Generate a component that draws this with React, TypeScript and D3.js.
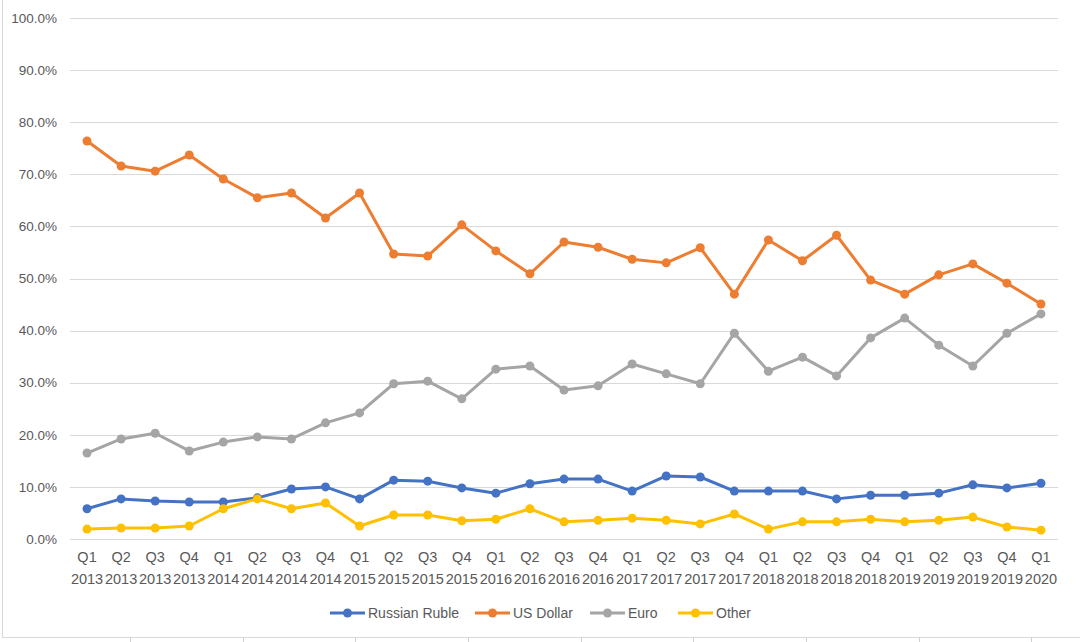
import React, { useEffect, useRef } from "react";
import * as d3 from "d3";

const quarters = [
  "Q1 2013", "Q2 2013", "Q3 2013", "Q4 2013",
  "Q1 2014", "Q2 2014", "Q3 2014", "Q4 2014",
  "Q1 2015", "Q2 2015", "Q3 2015", "Q4 2015",
  "Q1 2016", "Q2 2016", "Q3 2016", "Q4 2016",
  "Q1 2017", "Q2 2017", "Q3 2017", "Q4 2017",
  "Q1 2018", "Q2 2018", "Q3 2018", "Q4 2018",
  "Q1 2019", "Q2 2019", "Q3 2019", "Q4 2019",
  "Q1 2020",
];

const rubleValues = [
  5.8, 7.7, 7.3, 7.1, 7.1, 7.9, 9.6, 10.0, 7.7, 11.3, 11.1, 9.8, 8.8, 10.6, 11.5,
  11.5, 9.2, 12.1, 11.9, 9.2, 9.2, 9.2, 7.7, 8.4, 8.4, 8.8, 10.4, 9.8, 10.7,
];

const dollarValues = [
  76.4, 71.6, 70.6, 73.7, 69.1, 65.5, 66.4, 61.6, 66.4, 54.7, 54.3, 60.3, 55.3, 50.9,
  57.0, 56.0, 53.7, 53.0, 55.9, 47.0, 57.4, 53.4, 58.3, 49.7, 47.0, 50.7, 52.8, 49.1,
  45.1,
];

const euroValues = [
  16.5, 19.2, 20.3, 16.9, 18.6, 19.6, 19.2, 22.3, 24.2, 29.8, 30.3, 26.9, 32.6, 33.2,
  28.6, 29.4, 33.6, 31.7, 29.8, 39.5, 32.2, 34.9, 31.3, 38.6, 42.4, 37.2, 33.2, 39.5,
  43.2,
];

const otherValues = [
  1.9, 2.1, 2.1, 2.5, 5.8, 7.7, 5.8, 6.9, 2.5, 4.6, 4.6, 3.5, 3.8, 5.8, 3.3, 3.6, 4.0,
  3.6, 2.9, 4.8, 1.9, 3.3, 3.3, 3.8, 3.3, 3.6, 4.2, 2.3, 1.7,
];

const yTicks = [0, 10, 20, 30, 40, 50, 60, 70, 80, 90, 100];

const seriesNames = ["Russian Ruble", "US Dollar", "Euro", "Other"];
const seriesColors = ["#4472C4", "#ED7D31", "#A5A5A5", "#FFC000"];

const W = 1080;
const H = 642;
const FONT = "'Liberation Sans', Arial, sans-serif";

const App: React.FC = () => {
  const svgRef = useRef<SVGSVGElement>(null);

  useEffect(() => {
    const svg = d3.select(svgRef.current!);
    svg.selectAll("*").remove();

    const series = [rubleValues, dollarValues, euroValues, otherValues].map((values, i) => ({
      name: seriesNames[i],
      color: seriesColors[i],
      values,
    }));

    const x = d3.scaleBand<string>().domain(quarters).range([70, 1058]);
    const y = d3.scaleLinear().domain([0, 100]).range([539, 18]);
    const cx = (q: string) => x(q)! + x.bandwidth() / 2;

    // frame
    svg.append("line").attr("x1", 2.5).attr("x2", 2.5).attr("y1", 0).attr("y2", 637.5)
      .attr("stroke", "#d9d9d9");
    svg.append("line").attr("x1", 2).attr("x2", W).attr("y1", 637.5).attr("y2", 637.5)
      .attr("stroke", "#d9d9d9");
    [130, 243, 355, 468, 581, 693, 806, 919, 1031].forEach((t) => {
      svg.append("line").attr("x1", t + 0.5).attr("x2", t + 0.5).attr("y1", 637).attr("y2", H)
        .attr("stroke", "#d0d0d0");
    });

    // gridlines
    svg.append("g")
      .selectAll("line")
      .data(yTicks)
      .join("line")
      .attr("x1", 70)
      .attr("x2", 1058)
      .attr("y1", (d) => Math.round(y(d)) + 0.5)
      .attr("y2", (d) => Math.round(y(d)) + 0.5)
      .attr("stroke", "#d9d9d9")
      .attr("stroke-width", 1.2);

    // y labels
    svg.append("g")
      .selectAll("text")
      .data(yTicks)
      .join("text")
      .attr("x", 57)
      .attr("y", (d) => y(d))
      .attr("dy", "0.35em")
      .attr("text-anchor", "end")
      .attr("font-family", FONT)
      .attr("font-size", 13.5)
      .attr("fill", "#595959")
      .text((d) => d.toFixed(1) + "%");

    // x labels
    const xl = svg.append("g")
      .selectAll("text")
      .data(quarters)
      .join("text")
      .attr("text-anchor", "middle")
      .attr("font-family", FONT)
      .attr("font-size", 14.5)
      .attr("fill", "#595959");
    xl.append("tspan").attr("x", (d) => cx(d)).attr("y", 562).text((d) => d.split(" ")[0]);
    xl.append("tspan").attr("x", (d) => cx(d)).attr("y", 584).text((d) => d.split(" ")[1]);

    // lines
    const line = d3.line<number>()
      .x((_, i) => cx(quarters[i]))
      .y((d) => y(d));

    series.forEach((s) => {
      const g = svg.append("g");
      g.append("path")
        .attr("d", line(s.values)!)
        .attr("fill", "none")
        .attr("stroke", s.color)
        .attr("stroke-width", 3)
        .attr("stroke-linejoin", "round")
        .attr("stroke-linecap", "round");
      g.selectAll("circle")
        .data(s.values)
        .join("circle")
        .attr("cx", (_, i) => cx(quarters[i]))
        .attr("cy", (d) => y(d))
        .attr("r", 4.5)
        .attr("fill", s.color);
    });

    // legend
    const legendX = [330, 475, 590, 678];
    const legend = svg.append("g");
    series.forEach((s, i) => {
      const lx = legendX[i];
      const ly = 613;
      legend.append("line").attr("x1", lx).attr("x2", lx + 35).attr("y1", ly).attr("y2", ly)
        .attr("stroke", s.color).attr("stroke-width", 3);
      legend.append("circle").attr("cx", lx + 17.5).attr("cy", ly).attr("r", 4.5).attr("fill", s.color);
      legend.append("text")
        .attr("x", lx + 38)
        .attr("y", ly)
        .attr("dy", "0.35em")
        .attr("font-family", FONT)
        .attr("font-size", 14)
        .attr("fill", "#595959")
        .text(s.name);
    });
  }, []);

  return (
    <svg
      ref={svgRef}
      width={W}
      height={H}
      style={{ position: "absolute", left: 0, top: 0, background: "#fff" }}
    />
  );
};

export default App;
